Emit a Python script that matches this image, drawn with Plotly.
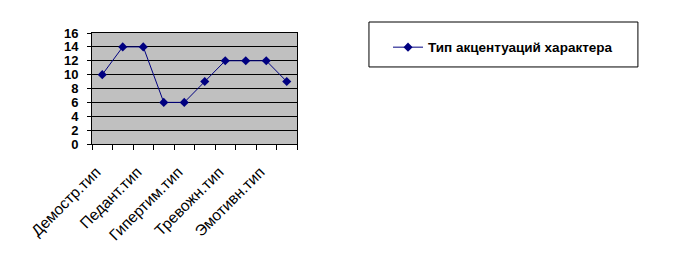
import plotly.graph_objects as go

categories = ["Демостр.тип", "Застрев.тип", "Педант.тип", "Возбуд.тип", "Гипертим.тип",
              "Дистим.тип", "Тревожн.тип", "Циклотим.тип", "Эмотивн.тип", "Экзальт.тип"]
values = [10, 14, 14, 6, 6, 9, 12, 12, 12, 9]
series_name = "Тип акцентуаций характера"
y_ticks = [0, 2, 4, 6, 8, 10, 12, 14, 16]

pos = list(range(len(categories)))
shown = pos[::2]
label_shift = 0.3  # visual offset of rotated labels

fig = go.Figure()
fig.add_trace(go.Scatter(
    x=pos, y=values, name=series_name, mode="lines+markers",
    line=dict(color="#000080", width=1),
    marker=dict(symbol="diamond", size=7, color="#000080"),
))
fig.add_trace(go.Scatter(x=[-0.5, len(categories) - 0.5], y=[0, 0], xaxis="x2",
                         mode="markers", marker=dict(opacity=0), showlegend=False,
                         hoverinfo="skip"))

fig.update_layout(
    width=683, height=275,
    margin=dict(l=92, r=386, t=33, b=131),
    paper_bgcolor="white", plot_bgcolor="#C0C0C0",
    font=dict(family="Arial, Liberation Sans", color="black"),
    xaxis=dict(range=[-0.5, len(categories) - 0.5],
               tickvals=[i - label_shift for i in shown],
               ticktext=[categories[i] for i in shown], tickangle=-45,
               ticks="", showgrid=False, zeroline=False, showline=True,
               linecolor="black", linewidth=1, mirror=True, ticklabelstandoff=12,
               tickfont=dict(size=15.5, family="Arial, Liberation Sans")),
    xaxis2=dict(range=[-0.5, len(categories) - 0.5], overlaying="x", side="bottom",
                tickvals=[i - 0.5 for i in range(len(categories) + 1)],
                ticks="outside", ticklen=5, tickcolor="black", showticklabels=False,
                showgrid=False, zeroline=False, showline=False),
    yaxis=dict(range=[0, 16], tickvals=y_ticks, showgrid=True, gridcolor="black",
               gridwidth=1, zeroline=False, showline=True, linecolor="black",
               mirror=True, ticks="outside", ticklen=4, tickcolor="black",
               ticklabelstandoff=6,
               tickfont=dict(size=13, family="Arial, Liberation Sans", weight="bold")),
    showlegend=True,
    legend=dict(x=1.444, y=1.01, xanchor="left", yanchor="top",
                bgcolor="rgba(0,0,0,0)", borderwidth=0,
                font=dict(size=13.5, family="Arial, Liberation Sans", weight="bold")),
    shapes=[dict(type="rect", xref="paper", yref="paper", x0=1.351, x1=2.663,
                 y0=0.694, y1=1.099, line=dict(color="black", width=1))],
)

fig.write_html("out.html")
